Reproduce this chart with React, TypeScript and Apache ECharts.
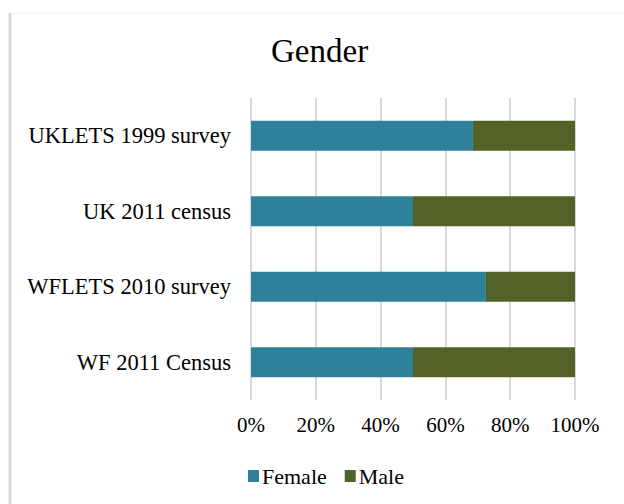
import React, { useEffect, useRef } from "react";
import * as echarts from "echarts";

const categories = ["UKLETS 1999 survey", "UK 2011 census", "WFLETS 2010 survey", "WF 2011 Census"];
const femaleValues = [68.5, 50, 72.5, 50];
const maleValues = [31.5, 50, 27.5, 50];
const xTicks = [0, 20, 40, 60, 80, 100];

const FONT = "'Liberation Serif', 'Times New Roman', serif";

export default function App() {
  const ref = useRef<HTMLDivElement>(null);
  useEffect(() => {
    if (!ref.current) return;
    const chart = echarts.init(ref.current, null, { renderer: "svg" });
    chart.setOption({
      animation: false,
      backgroundColor: "#fff",
      textStyle: { fontFamily: FONT, color: "#000" },
      title: {
        text: "Gender",
        left: 266,
        top: 29,
        textStyle: { fontFamily: FONT, fontSize: 33, fontWeight: "normal", color: "#000" },
      },
      graphic: [
        { type: "line", shape: { x1: 10, y1: 13, x2: 10, y2: 504 }, style: { stroke: "#d9d9d9", lineWidth: 3 } },
        { type: "line", shape: { x1: 10, y1: 13, x2: 624, y2: 13 }, style: { stroke: "#f2f2f2", lineWidth: 1 } },
      ],
      legend: {
        left: 243,
        top: 460,
        icon: "rect",
        itemWidth: 11,
        itemHeight: 12,
        itemGap: 18,
        textStyle: { fontFamily: FONT, fontSize: 22, color: "#000", padding: [0, 0, 0, -2] },
        data: ["Female", "Male"],
      },
      grid: { left: 251, right: 49, top: 98, bottom: 104, containLabel: false },
      xAxis: {
        type: "value",
        min: xTicks[0],
        max: xTicks[xTicks.length - 1],
        interval: 20,
        axisLine: { show: false },
        axisTick: { show: false },
        splitLine: { show: true, lineStyle: { color: "#d9d9d9", width: 2 } },
        axisLabel: { formatter: "{value}%", fontFamily: FONT, fontSize: 21, color: "#000", margin: 14 },
      },
      yAxis: {
        type: "category",
        data: categories,
        inverse: true,
        axisLine: { show: false },
        axisTick: { show: false },
        axisLabel: { fontFamily: FONT, fontSize: 22.5, color: "#000", margin: 20 },
      },
      series: [
        {
          name: "Female",
          type: "bar",
          stack: "g",
          data: femaleValues,
          barWidth: 30,
          itemStyle: { color: "#2E8199" },
        },
        {
          name: "Male",
          type: "bar",
          stack: "g",
          data: maleValues,
          barWidth: 30,
          itemStyle: { color: "#536226" },
        },
      ],
    });
    return () => chart.dispose();
  }, []);
  return (
    <div
      ref={ref}
      style={{ position: "absolute", left: 0, top: 0, width: 624, height: 504 }}
    />
  );
}
